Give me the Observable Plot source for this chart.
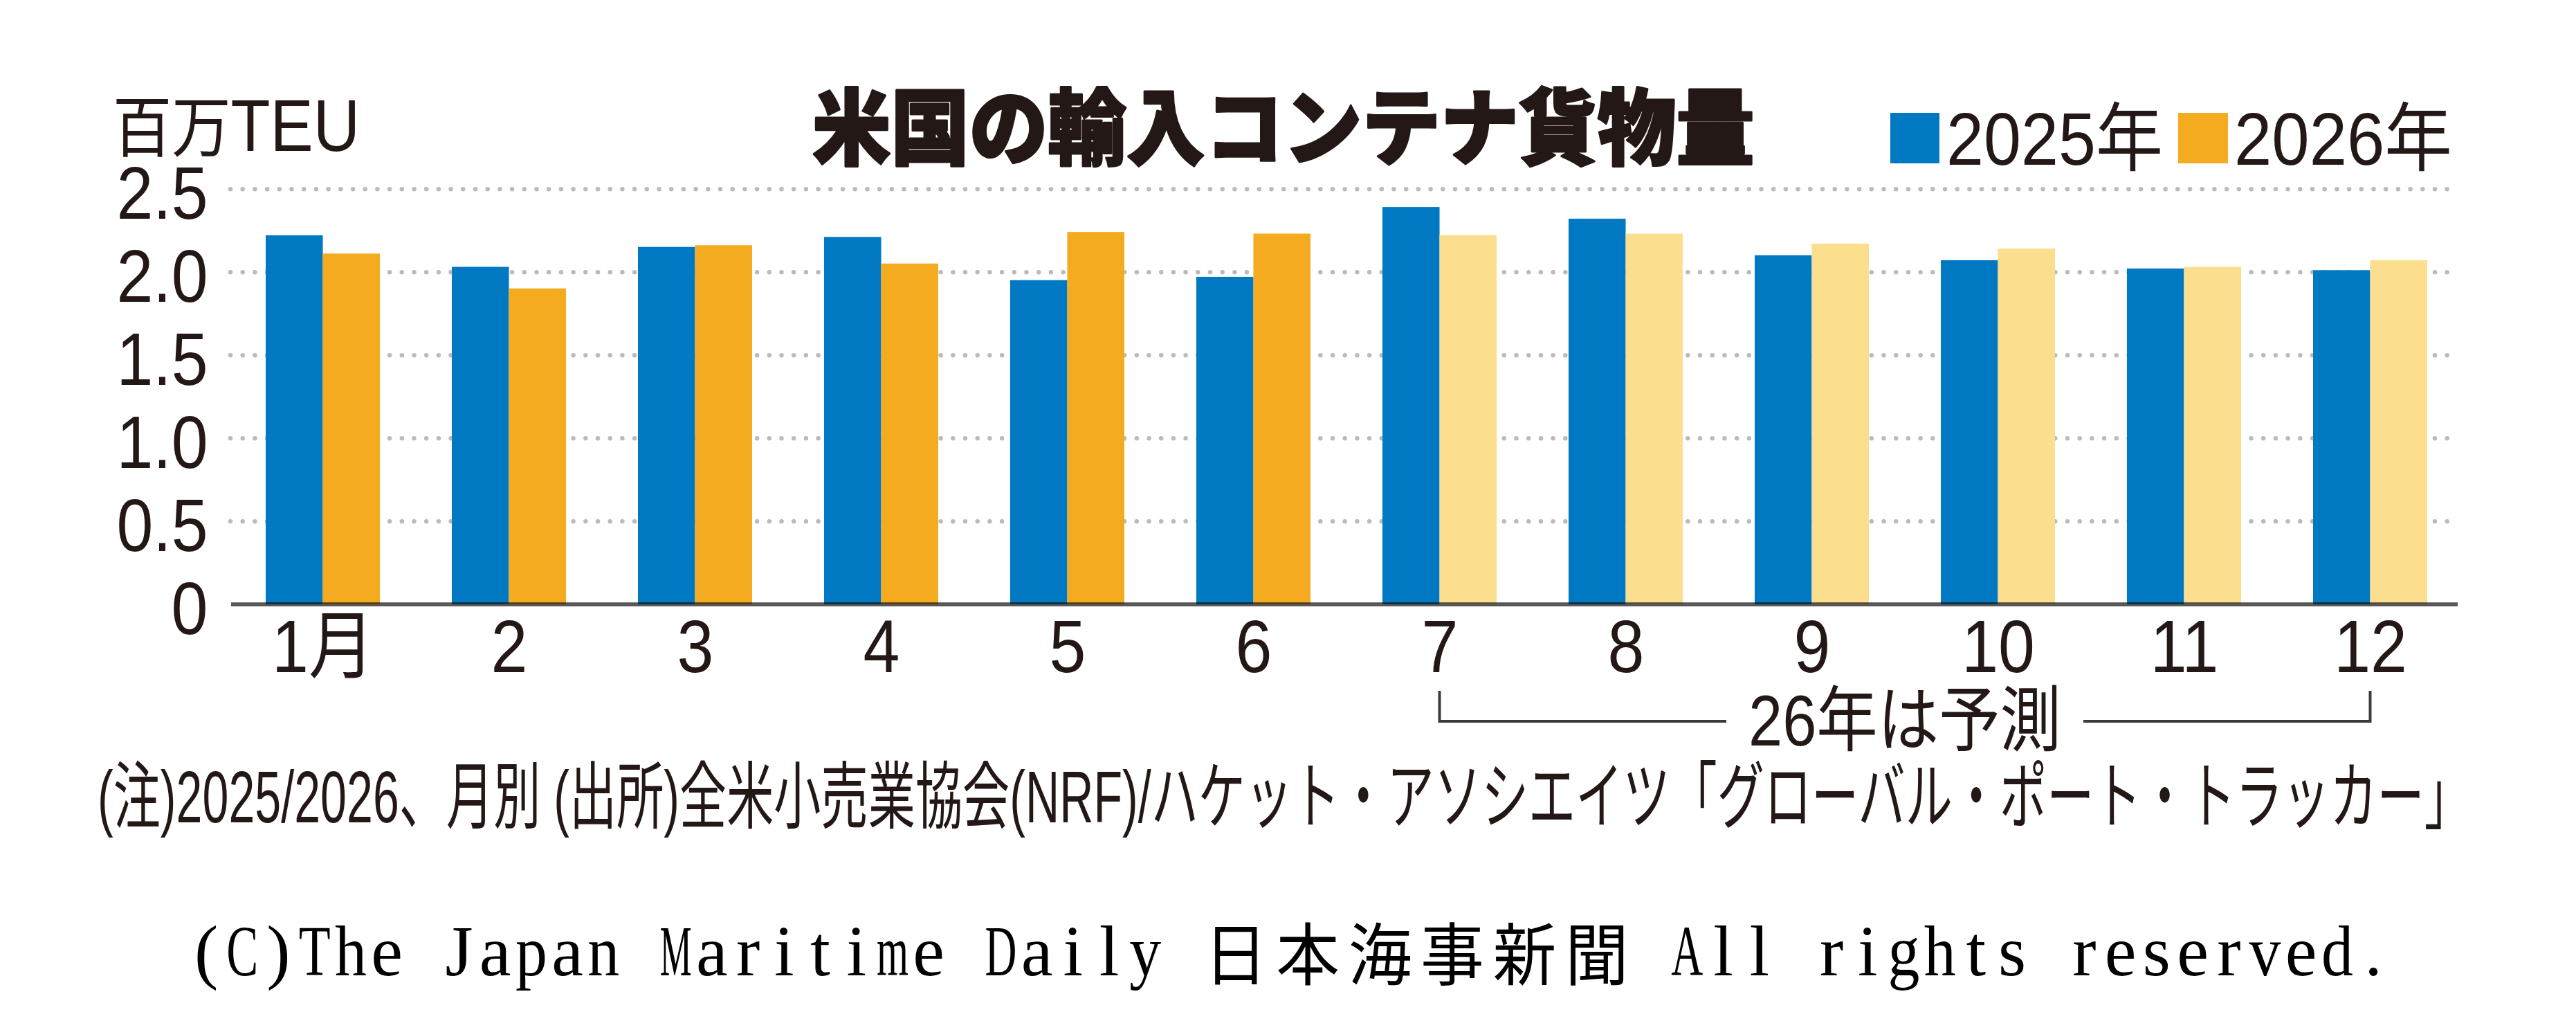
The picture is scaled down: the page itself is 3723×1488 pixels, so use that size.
<!DOCTYPE html>
<html>
<head>
<meta charset="utf-8">
<script src="https://cdn.jsdelivr.net/npm/d3@7"></script>
<script src="https://cdn.jsdelivr.net/npm/@observablehq/plot@0.6"></script>
<style>
html, body { margin: 0; padding: 0; background: #fff; }
#chart { position: relative; width: 3723px; height: 1488px; overflow: hidden; background: #fff; }
#chart svg { display: block; }
</style>
</head>
<body>
<div id="chart"></div>
<script>
// ---------- data ----------
const months = ["1","2","3","4","5","6","7","8","9","10","11","12"];
const monthLabels = ["1月","2","3","4","5","6","7","8","9","10","11","12"];
const series = ["2025年", "2026年"];
const v2025 = [2.22, 2.03, 2.15, 2.21, 1.95, 1.97, 2.39, 2.32, 2.10, 2.07, 2.02, 2.01];
const v2026 = [2.11, 1.90, 2.16, 2.05, 2.24, 2.23, 2.22, 2.23, 2.17, 2.14, 2.03, 2.07];
const forecastMonths = ["7","8","9","10","11","12"];
const yTicks = [0, 0.5, 1, 1.5, 2, 2.5];
const yTickLabels = ["0", "0.5", "1.0", "1.5", "2.0", "2.5"];
const seriesColors = ["#0079c2", "#f5ab1f"];
const forecastColor = "#fbdf8f";
const titleText = "米国の輸入コンテナ貨物量";
const unitParts = ["百万", "TEU"];
const forecastLabel = "26年は予測";
const noteText = "(注)2025/2026、月別 (出所)全米小売業協会(NRF)/ハケット・アソシエイツ「グローバル・ポート・トラッカー」";
const creditText = "(C)The Japan Maritime Daily 日本海事新聞 All rights reserved.";

// ---------- layout ----------
const W = 3723, H = 1488;
const mL = 333, mR = 165, mT = 272.7, mB = H - 872.7;
const pIn = 0.387, pOut = 0.186;
const step = (W - mL - mR) / (months.length - pIn + 2 * pOut);
const bw = step * (1 - pIn);
const ink = "#231815";
const sansFam = '"Liberation Sans", "Noto Sans CJK JP", sans-serif';
const cjkFam = '"Noto Sans CJK JP", "Noto Sans CJK SC", sans-serif';
const serifFam = '"Liberation Serif", "DejaVu Serif", serif';

const rows = months.map((m, i) => ({month: m, a: v2025[i], b: v2026[i], fc: forecastMonths.includes(m)}));

const chart = Plot.plot({
  width: W, height: H,
  marginLeft: mL, marginRight: mR, marginTop: mT, marginBottom: mB,
  style: {fontFamily: sansFam, color: ink, background: "#fff", overflow: "visible"},
  x: {domain: months, paddingInner: pIn, paddingOuter: pOut, align: 0.5},
  y: {domain: [0, 2.5]},
  marks: [
    Plot.ruleY(yTicks.filter(d => d > 0), {stroke: "#bbbbbb", strokeWidth: 6.5, strokeDasharray: "0,17.7", strokeLinecap: "round", insetLeft: 0, insetRight: 12}),
    Plot.barY(rows, {x: "month", y: "a", fill: seriesColors[0], insetRight: bw / 2}),
    Plot.barY(rows.filter(d => !d.fc), {x: "month", y: "b", fill: seriesColors[1], insetLeft: bw / 2}),
    Plot.barY(rows.filter(d => d.fc), {x: "month", y: "b", fill: forecastColor, insetLeft: bw / 2}),
    Plot.ruleY([0], {stroke: "#595757", strokeWidth: 5.7, insetLeft: 1, insetRight: 6, mixBlendMode: "multiply"}),
    Plot.axisY({ticks: yTicks, tickFormat: d => yTickLabels[yTicks.indexOf(d)], tickSize: 0, tickPadding: 33, fontSize: 108, dy: 8, label: null}),
    Plot.axisX({tickFormat: d => monthLabels[months.indexOf(d)], tickSize: 0, tickPadding: 21, fontSize: 108, label: null})
  ]
});
document.getElementById("chart").appendChild(chart);

const svg = d3.select(chart);
// condense tick labels horizontally like the original condensed gothic
svg.selectAll("text").each(function () {
  const L = this.getComputedTextLength();
  if (L > 0) { this.setAttribute("textLength", (L * 0.88).toFixed(1)); this.setAttribute("lengthAdjust", "spacingAndGlyphs"); }
});

const g = svg.append("g").attr("class", "annotations").attr("fill", ink).attr("text-anchor", "start");

// place a text so that its advance width equals len, by horizontal scaling
function fit(t, x, y, len) {
  t.attr("x", 0).attr("y", 0);
  const L = t.node().getComputedTextLength();
  const s = L > 0 ? len / L : 1;
  t.attr("transform", `translate(${x},${y}) scale(${s.toFixed(4)},1)`);
  return t;
}
function txt(str, o) {
  const t = g.append("text")
    .attr("font-family", o.family || sansFam)
    .attr("font-size", o.size)
    .attr("text-anchor", o.anchor || "start")
    .text(str);
  if (o.weight) t.attr("font-weight", o.weight);
  if (o.stroke) t.attr("stroke", ink).attr("stroke-width", o.stroke).attr("stroke-linejoin", "round");
  return fit(t, o.x, o.y, o.len);
}

// title
txt(titleText, {x: 1174, y: 229, size: 120, family: cjkFam, weight: 900, stroke: 3, len: 1362});

// unit label
{
  const t = g.append("text").attr("text-anchor", "start");
  t.append("tspan").attr("font-family", cjkFam).attr("font-size", 96).text(unitParts[0]);
  t.append("tspan").attr("font-family", sansFam).attr("font-size", 105).text(unitParts[1]);
  fit(t, 163, 218, 357);
}

// legend
const legendBoxes = [[2732, 71], [3148, 72]];
const legendText = [[2813, 313], [3229, 315]];
series.forEach((s, i) => {
  g.append("rect").attr("x", legendBoxes[i][0]).attr("y", 163).attr("width", legendBoxes[i][1]).attr("height", 73).attr("fill", seriesColors[i]);
  txt(s, {x: legendText[i][0], y: 238, size: 108, len: legendText[i][1]});
});

// forecast bracket (from month 7 to month 12 via the x scale)
const xs = chart.scale("x");
const half = (xs.bandwidth != null ? xs.bandwidth : bw) / 2;
const xl = xs.apply(forecastMonths[0]) + half;
const xr = xs.apply(forecastMonths[forecastMonths.length - 1]) + half;
const mid = (xl + xr) / 2;
const gap = 258;
const br = g.append("g").attr("stroke", "#3e3a39").attr("stroke-width", 4).attr("fill", "none");
br.append("path").attr("d", `M${xl},998V1042H${mid - gap}`);
br.append("path").attr("d", `M${mid + gap},1042H${xr}V998`);
txt(forecastLabel, {x: mid, y: 1077, size: 103, anchor: "middle", len: 452});

// note
txt(noteText, {x: 141, y: 1188, size: 106, len: 3431});

// credit line, monospaced cells; each glyph narrowed to fit its cell
{
  const pitch = 52.2, x0 = 272;
  const cg = g.append("g").attr("class", "credit").attr("fill", "#000").attr("text-anchor", "middle");
  let cell = 0;
  for (const ch of creditText) {
    const wide = /[\u3000-\u9fff\uff00-\uffef]/.test(ch);
    const cells = wide ? 2 : 1;
    if (ch !== " ") {
      const cx = x0 + (cell + cells / 2) * pitch;
      const cy = wide ? 1415 : 1409;
      const t = cg.append("text")
        .attr("x", 0).attr("y", 0)
        .attr("font-family", wide ? cjkFam : serifFam)
        .attr("font-size", wide ? 98 : 103)
        .text(ch);
      const w = t.node().getComputedTextLength();
      const max = pitch * cells * 0.88;
      const s = w > max ? max / w : 1;
      t.attr("transform", `translate(${cx.toFixed(1)},${cy}) scale(${s.toFixed(4)},1)`);
    }
    cell += cells;
  }
}
</script>
</body>
</html>
